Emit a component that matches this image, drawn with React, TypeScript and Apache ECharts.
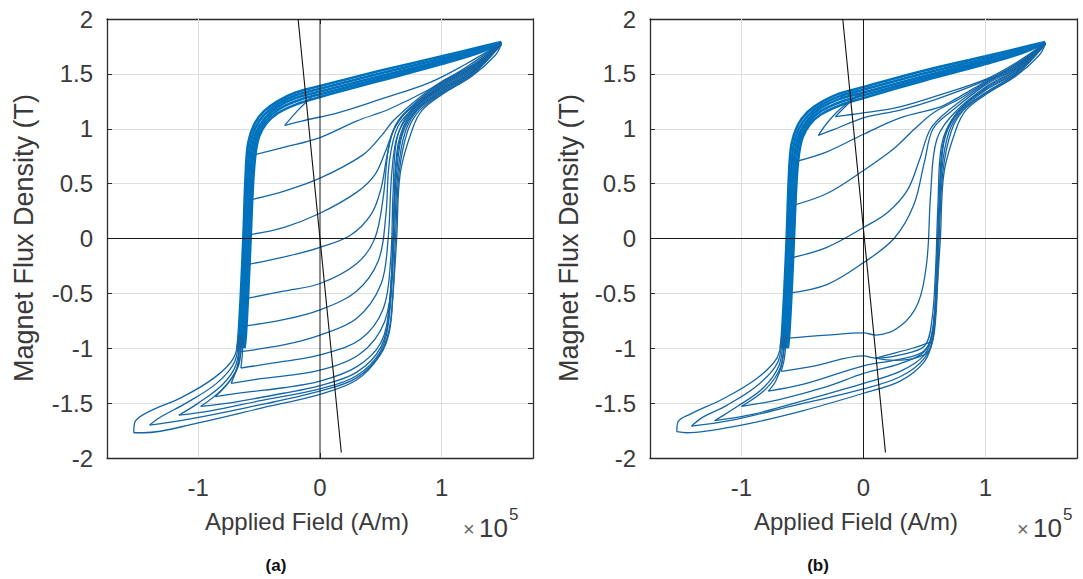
import React, { useEffect, useRef } from 'react';
import * as echarts from 'echarts';

type Pt = [number, number];

// ---------- axes ----------
const xTicks = [-1, 0, 1];
const xMin = -1.75;
const xMax = 1.75;
const yMin = -2;
const yMax = 2;
const yStep = 0.5;
const xName = 'Applied Field (A/m)';
const yName = 'Magnet Flux Density (T)';
const captions = ['(a)', '(b)'];

// ---------- reference lines ----------
const zeroV: Pt[] = [[0, -2], [0, 2]];
const zeroH: Pt[] = [[-1.75, 0], [1.75, 0]];
const aLoad: Pt[] = [[-0.18, 2], [0.175, -1.95]];
const bLoad: Pt[] = [[-0.17, 2], [0.18, -1.95]];

// ---------- panel (a) ----------
const aBand1: Pt[] = [[1.49, 1.79], [1.3, 1.74], [1.0, 1.66], [0.5, 1.53], [0, 1.39], [-0.2, 1.33], [-0.35, 1.25], [-0.46, 1.16], [-0.54, 1.04], [-0.59, 0.87], [-0.61, 0.6], [-0.63, 0], [-0.65, -0.5], [-0.67, -0.9], [-0.68, -1.0]];
const aBand2: Pt[] = [[1.49, 1.785], [1.3, 1.725], [1.0, 1.64], [0.5, 1.505], [0, 1.365], [-0.2, 1.305], [-0.35, 1.225], [-0.455, 1.13], [-0.53, 1.01], [-0.575, 0.845], [-0.595, 0.575], [-0.615, 0], [-0.635, -0.5], [-0.655, -0.9], [-0.665, -1.0]];
const aBand3: Pt[] = [[1.49, 1.78], [1.3, 1.71], [1.0, 1.62], [0.5, 1.48], [0, 1.34], [-0.2, 1.28], [-0.35, 1.2], [-0.45, 1.1], [-0.52, 0.98], [-0.56, 0.82], [-0.58, 0.55], [-0.6, 0], [-0.62, -0.5], [-0.64, -0.9], [-0.65, -1.0]];
const aBand4: Pt[] = [[1.49, 1.78], [1.3, 1.7], [1.0, 1.605], [0.5, 1.46], [0, 1.315], [-0.2, 1.25], [-0.35, 1.17], [-0.445, 1.075], [-0.51, 0.955], [-0.545, 0.795], [-0.565, 0.525], [-0.585, 0], [-0.605, -0.5], [-0.625, -0.9], [-0.635, -1.0]];
const aBand5: Pt[] = [[1.49, 1.78], [1.3, 1.69], [1.0, 1.59], [0.5, 1.44], [0, 1.29], [-0.2, 1.22], [-0.35, 1.14], [-0.44, 1.05], [-0.5, 0.93], [-0.53, 0.77], [-0.55, 0.5], [-0.57, 0], [-0.59, -0.5], [-0.61, -0.9], [-0.62, -1.0]];

const aMinorDown: Pt[] = [[-0.05, 1.31], [-0.18, 1.17], [-0.29, 1.03]];
const aMinorUp: Pt[] = [[-0.29, 1.03], [-0.15, 1.07], [0.16, 1.15], [0.5, 1.27], [0.9, 1.42], [1.2, 1.59], [1.49, 1.78]];

const aR1: Pt[] = [[-0.55, 0.76], [-0.3, 0.83], [0, 0.92], [0.3, 1.07], [0.57, 1.18], [0.9, 1.36], [1.2, 1.56], [1.49, 1.78]];
const aR2: Pt[] = [[-0.58, 0.35], [-0.3, 0.43], [0, 0.55], [0.35, 0.76], [0.5, 0.93], [0.6, 1.07], [0.79, 1.26], [1.0, 1.43], [1.25, 1.58], [1.49, 1.78]];
const aR3: Pt[] = [[-0.6, 0.03], [-0.3, 0.1], [0, 0.23], [0.3, 0.42], [0.45, 0.58], [0.54, 0.8], [0.62, 1.02], [0.75, 1.2], [1.0, 1.42], [1.25, 1.57], [1.49, 1.78]];
const aR4: Pt[] = [[-0.61, -0.24], [-0.3, -0.17], [0, -0.08], [0.25, 0.03], [0.42, 0.22], [0.5, 0.45], [0.55, 0.75], [0.6, 0.98], [0.7, 1.15], [1.0, 1.41], [1.25, 1.56], [1.49, 1.78]];
const aR5: Pt[] = [[-0.62, -0.55], [-0.3, -0.48], [0, -0.41], [0.3, -0.23], [0.45, 0.0], [0.52, 0.38], [0.56, 0.8], [0.62, 1.03], [0.72, 1.16], [1.0, 1.4], [1.25, 1.56], [1.49, 1.78]];
const aR6: Pt[] = [[-0.635, -0.8], [-0.3, -0.74], [0, -0.65], [0.3, -0.48], [0.48, -0.2], [0.54, 0.2], [0.57, 0.7], [0.64, 1.02], [0.8, 1.22], [1.0, 1.39], [1.25, 1.55], [1.49, 1.78]];
const aR7: Pt[] = [[-0.65, -1.03], [-0.3, -0.97], [0, -0.88], [0.3, -0.73], [0.5, -0.42], [0.56, 0], [0.59, 0.6], [0.64, 0.95], [0.78, 1.19], [1.0, 1.38], [1.25, 1.54], [1.49, 1.78]];

const aT1Down: Pt[] = [[-0.63, -0.88], [-0.64, -1.08], [-0.65, -1.18]];
const aT1Up: Pt[] = [[-0.65, -1.18], [-0.3, -1.12], [0, -1.06], [0.33, -0.92], [0.52, -0.64], [0.58, -0.2], [0.6, 0.4], [0.63, 0.9], [0.75, 1.17], [1.0, 1.37], [1.25, 1.53], [1.49, 1.78]];
const aT2Down: Pt[] = [[-0.64, -0.88], [-0.66, -1.12], [-0.7, -1.24], [-0.73, -1.32]];
const aT2Up: Pt[] = [[-0.73, -1.32], [-0.5, -1.28], [0, -1.2], [0.33, -1.05], [0.53, -0.76], [0.59, -0.3], [0.61, 0.3], [0.64, 0.85], [0.76, 1.16], [1.0, 1.36], [1.25, 1.52], [1.49, 1.78]];
const aT3Down: Pt[] = [[-0.65, -0.88], [-0.67, -1.15], [-0.75, -1.31], [-0.86, -1.44]];
const aT3Up: Pt[] = [[-0.86, -1.44], [-0.6, -1.4], [-0.3, -1.36], [0, -1.3], [0.3, -1.17], [0.5, -0.95], [0.57, -0.6], [0.6, 0], [0.62, 0.6], [0.67, 0.95], [0.78, 1.17], [1.0, 1.35], [1.25, 1.52], [1.49, 1.78]];
const aT4Down: Pt[] = [[-0.66, -0.88], [-0.68, -1.17], [-0.8, -1.37], [-0.98, -1.53]];
const aT4Up: Pt[] = [[-0.98, -1.53], [-0.7, -1.49], [-0.3, -1.41], [0, -1.34], [0.3, -1.22], [0.5, -0.99], [0.57, -0.65], [0.6, 0], [0.63, 0.6], [0.68, 0.96], [0.8, 1.18], [1.0, 1.34], [1.25, 1.51], [1.49, 1.77]];
const aT5Down: Pt[] = [[-0.66, -0.88], [-0.69, -1.15], [-0.8, -1.33], [-1.0, -1.5], [-1.16, -1.61]];
const aT5Up: Pt[] = [[-1.16, -1.61], [-0.9, -1.57], [-0.5, -1.48], [0, -1.37], [0.3, -1.25], [0.5, -1.02], [0.57, -0.7], [0.61, 0], [0.64, 0.6], [0.7, 0.97], [0.81, 1.18], [1.0, 1.33], [1.25, 1.5], [1.49, 1.77]];
const aT6Down: Pt[] = [[-0.67, -0.88], [-0.7, -1.12], [-0.85, -1.32], [-1.1, -1.5], [-1.3, -1.62], [-1.4, -1.7]];
const aT6Up: Pt[] = [[-1.4, -1.7], [-1.1, -1.65], [-0.6, -1.54], [0, -1.39], [0.3, -1.27], [0.5, -1.04], [0.58, -0.75], [0.62, 0], [0.65, 0.6], [0.72, 0.98], [0.82, 1.17], [1.0, 1.32], [1.25, 1.49], [1.49, 1.77]];
const aT7Down: Pt[] = [[-0.67, -0.88], [-0.71, -1.09], [-0.87, -1.27], [-1.14, -1.45], [-1.41, -1.58], [-1.52, -1.67], [-1.53, -1.77]];
const aT7Up: Pt[] = [[-1.53, -1.77], [-1.45, -1.77], [-1.0, -1.68], [-0.5, -1.55], [0, -1.42], [0.3, -1.29], [0.49, -1.07], [0.57, -0.85], [0.6, -0.5], [0.63, 0], [0.66, 0.6], [0.76, 1.0], [0.84, 1.17], [1.0, 1.31], [1.25, 1.48], [1.44, 1.67], [1.49, 1.77]];

// ---------- panel (b) ----------
const bBand1: Pt[] = [[1.49, 1.79], [1.3, 1.74], [1.0, 1.66], [0.5, 1.53], [0, 1.38], [-0.2, 1.32], [-0.35, 1.24], [-0.46, 1.15], [-0.54, 1.03], [-0.59, 0.86], [-0.61, 0.6], [-0.63, 0], [-0.65, -0.5], [-0.67, -0.9], [-0.68, -1.0]];
const bBand2: Pt[] = [[1.49, 1.785], [1.3, 1.725], [1.0, 1.64], [0.5, 1.505], [0, 1.355], [-0.2, 1.295], [-0.35, 1.215], [-0.455, 1.12], [-0.53, 1.0], [-0.575, 0.835], [-0.595, 0.575], [-0.615, 0], [-0.635, -0.5], [-0.655, -0.9], [-0.665, -1.0]];
const bBand3: Pt[] = [[1.49, 1.78], [1.3, 1.71], [1.0, 1.62], [0.5, 1.48], [0, 1.33], [-0.2, 1.27], [-0.35, 1.19], [-0.45, 1.09], [-0.52, 0.97], [-0.56, 0.81], [-0.58, 0.55], [-0.6, 0], [-0.62, -0.5], [-0.64, -0.9], [-0.65, -1.0]];
const bBand4: Pt[] = [[1.49, 1.78], [1.3, 1.7], [1.0, 1.605], [0.5, 1.46], [0, 1.305], [-0.2, 1.24], [-0.35, 1.16], [-0.445, 1.065], [-0.51, 0.945], [-0.545, 0.785], [-0.565, 0.525], [-0.585, 0], [-0.605, -0.5], [-0.625, -0.9], [-0.635, -1.0]];
const bBand5: Pt[] = [[1.49, 1.78], [1.3, 1.69], [1.0, 1.59], [0.5, 1.44], [0, 1.28], [-0.2, 1.21], [-0.35, 1.13], [-0.44, 1.04], [-0.5, 0.92], [-0.53, 0.76], [-0.55, 0.5], [-0.57, 0], [-0.59, -0.5], [-0.61, -0.9], [-0.62, -1.0]];

const bMinor1Down: Pt[] = [[0.1, 1.36], [-0.05, 1.3], [-0.15, 1.2], [-0.23, 1.11]];
const bMinor1Up: Pt[] = [[-0.23, 1.11], [-0.1, 1.13], [0.1, 1.16], [0.3, 1.2], [0.6, 1.3], [1.0, 1.45], [1.25, 1.6], [1.49, 1.78]];
const bMinor2Down: Pt[] = [[-0.05, 1.3], [-0.2, 1.17], [-0.3, 1.05], [-0.37, 0.94]];
const bMinor2Up: Pt[] = [[-0.37, 0.94], [-0.25, 0.99], [0, 1.1], [0.3, 1.17], [0.6, 1.27], [1.0, 1.44], [1.25, 1.59], [1.49, 1.78]];

const bR1: Pt[] = [[-0.56, 0.7], [-0.3, 0.79], [0, 0.95], [0.3, 1.1], [0.63, 1.2], [0.8, 1.3], [1.0, 1.43], [1.25, 1.58], [1.49, 1.78]];
const bR2: Pt[] = [[-0.585, 0.3], [-0.3, 0.41], [0, 0.62], [0.25, 0.82], [0.42, 1.0], [0.58, 1.15], [0.8, 1.28], [1.0, 1.42], [1.25, 1.57], [1.49, 1.78]];
const bR3: Pt[] = [[-0.605, -0.18], [-0.3, -0.08], [0, 0.1], [0.2, 0.24], [0.36, 0.44], [0.46, 0.72], [0.55, 1.0], [0.7, 1.17], [1.0, 1.41], [1.25, 1.56], [1.49, 1.78]];
const bR4: Pt[] = [[-0.62, -0.5], [-0.3, -0.42], [0, -0.22], [0.25, 0.0], [0.41, 0.3], [0.5, 0.7], [0.57, 1.0], [0.72, 1.16], [1.0, 1.4], [1.25, 1.55], [1.49, 1.78]];
const bR5: Pt[] = [[-0.64, -0.91], [-0.3, -0.88], [0, -0.86], [0.1, -0.88], [0.3, -0.8], [0.45, -0.58], [0.52, -0.2], [0.55, 0.4], [0.6, 0.9], [0.75, 1.15], [1.0, 1.38], [1.25, 1.54], [1.49, 1.78]];

const bLowDown: Pt[] = [[0.56, -0.94], [0.4, -1.0], [0.2, -1.06], [0.1, -1.09]];
const bLowUp: Pt[] = [[0.1, -1.09], [0.25, -1.11], [0.45, -1.08], [0.55, -1.0], [0.58, -0.7]];

const bT1Down: Pt[] = [[-0.63, -0.88], [-0.65, -1.1], [-0.675, -1.21]];
const bT1Up: Pt[] = [[-0.675, -1.21], [-0.4, -1.16], [0, -1.07], [0.1, -1.09], [0.3, -1.06], [0.5, -0.98], [0.56, -0.75], [0.59, -0.3], [0.61, 0.3], [0.64, 0.85], [0.76, 1.14], [1.0, 1.37], [1.25, 1.53], [1.49, 1.78]];
const bT2Down: Pt[] = [[-0.64, -0.88], [-0.67, -1.15], [-0.72, -1.3], [-0.78, -1.39]];
const bT2Up: Pt[] = [[-0.78, -1.39], [-0.5, -1.33], [0, -1.16], [0.3, -1.1], [0.5, -1.02], [0.57, -0.8], [0.6, -0.3], [0.62, 0.3], [0.65, 0.85], [0.77, 1.15], [1.0, 1.36], [1.25, 1.52], [1.49, 1.78]];
const bT3Down: Pt[] = [[-0.65, -0.88], [-0.68, -1.17], [-0.8, -1.37], [-1.0, -1.53]];
const bT3Up: Pt[] = [[-1.0, -1.53], [-0.7, -1.47], [-0.3, -1.35], [0, -1.23], [0.3, -1.14], [0.5, -1.03], [0.57, -0.82], [0.6, -0.2], [0.63, 0.5], [0.67, 0.93], [0.79, 1.16], [1.0, 1.35], [1.25, 1.51], [1.49, 1.78]];
const bT4Down: Pt[] = [[-0.66, -0.88], [-0.69, -1.15], [-0.82, -1.36], [-1.02, -1.52], [-1.22, -1.66]];
const bT4Up: Pt[] = [[-1.22, -1.66], [-0.9, -1.6], [-0.5, -1.48], [0, -1.32], [0.3, -1.21], [0.5, -1.06], [0.57, -0.84], [0.61, -0.1], [0.64, 0.6], [0.7, 0.97], [0.81, 1.17], [1.0, 1.33], [1.25, 1.5], [1.49, 1.77]];
const bT5Down: Pt[] = [[-0.67, -0.88], [-0.7, -1.12], [-0.86, -1.33], [-1.12, -1.52], [-1.32, -1.63], [-1.41, -1.71]];
const bT5Up: Pt[] = [[-1.41, -1.71], [-1.1, -1.66], [-0.6, -1.53], [0, -1.37], [0.3, -1.26], [0.5, -1.09], [0.58, -0.86], [0.62, 0], [0.65, 0.6], [0.72, 0.98], [0.82, 1.17], [1.0, 1.32], [1.25, 1.49], [1.49, 1.77]];
const bT6Down: Pt[] = [[-0.67, -0.88], [-0.71, -1.09], [-0.88, -1.28], [-1.15, -1.46], [-1.42, -1.6], [-1.52, -1.67], [-1.53, -1.76]];
const bT6Up: Pt[] = [[-1.53, -1.76], [-1.45, -1.77], [-1.0, -1.7], [-0.5, -1.57], [0, -1.41], [0.3, -1.3], [0.5, -1.12], [0.57, -0.9], [0.6, -0.5], [0.63, 0], [0.66, 0.6], [0.76, 1.0], [0.84, 1.17], [1.0, 1.31], [1.25, 1.48], [1.44, 1.67], [1.49, 1.77]];

const aBands = [aBand1, aBand2, aBand3, aBand4, aBand5];
const aThin = [aMinorDown, aMinorUp, aR1, aR2, aR3, aR4, aR5, aR6, aR7, aT1Down, aT1Up, aT2Down, aT2Up, aT3Down, aT3Up, aT4Down, aT4Up, aT5Down, aT5Up, aT6Down, aT6Up, aT7Down, aT7Up];
const bBands = [bBand1, bBand2, bBand3, bBand4, bBand5];
const bThin = [bMinor1Down, bMinor1Up, bMinor2Down, bMinor2Up, bR1, bR2, bR3, bR4, bR5, bLowDown, bLowUp, bT1Down, bT1Up, bT2Down, bT2Up, bT3Down, bT3Up, bT4Down, bT4Up, bT5Down, bT5Up, bT6Down, bT6Up];

const FONT = '"Liberation Sans", Arial, Helvetica, sans-serif';
const BLUE = '#0072BD';
const BLUE_THIN = '#1466a6';
const FRAME = '#2b2b2b';
const TEXT = '#3a3a3a';

export default function App() {
  const ref = useRef<HTMLDivElement>(null);

  useEffect(() => {
    if (!ref.current) return;
    const chart = echarts.init(ref.current, undefined, { renderer: 'svg' });

    const grids = [
      { left: 107, top: 19, width: 426, height: 439 },
      { left: 650, top: 19, width: 427, height: 439 },
    ];

    const xAxes: any[] = [];
    const yAxes: any[] = [];
    grids.forEach((_, gi) => {
      const common = {
        gridIndex: gi,
        type: 'value',
        min: xMin,
        max: xMax,
        axisLine: { show: true, onZero: false, lineStyle: { color: FRAME, width: 1.3 } },
        splitLine: { show: false },
      };
      xAxes.push({
        ...common,
        position: 'bottom',
        axisTick: { show: true, inside: true, length: 5, customValues: xTicks, lineStyle: { color: FRAME } },
        axisLabel: { show: true, customValues: xTicks, formatter: (v: number) => String(v), fontSize: 24, color: TEXT, margin: 17, fontFamily: FONT },
      });
      xAxes.push({
        ...common,
        position: 'top',
        axisTick: { show: true, inside: true, length: 5, customValues: xTicks, lineStyle: { color: FRAME } },
        axisLabel: { show: false },
      });
      const ycommon = {
        gridIndex: gi,
        type: 'value',
        min: yMin,
        max: yMax,
        interval: yStep,
        axisLine: { show: true, onZero: false, lineStyle: { color: FRAME, width: 1.3 } },
        axisTick: { show: true, inside: true, length: 5, lineStyle: { color: FRAME } },
      };
      yAxes.push({
        ...ycommon,
        position: 'left',
        splitLine: { show: true, lineStyle: { color: '#dedede', width: 1 } },
        axisLabel: { show: true, formatter: (v: number) => String(v), fontSize: 24, color: TEXT, margin: 14, fontFamily: FONT },
      });
      yAxes.push({
        ...ycommon,
        position: 'right',
        splitLine: { show: false },
        axisLabel: { show: false },
      });
    });

    const series: any[] = [];
    const line = (data: Pt[], gi: number, color: string, width: number, z: number, smooth: number | boolean) => ({
      type: 'line',
      xAxisIndex: gi * 2,
      yAxisIndex: gi * 2,
      data,
      symbol: 'none',
      showSymbol: false,
      smooth,
      silent: true,
      lineStyle: { color, width },
      z,
    });

    [[aBands, aThin, aLoad], [bBands, bThin, bLoad]].forEach(([bands, thin, load], gi) => {
      const vz: any = line(zeroV, gi, '#1a1a1a', 1, 5, false);
      vz.markLine = {
        silent: true,
        symbol: 'none',
        label: { show: false },
        lineStyle: { color: '#dedede', type: 'solid', width: 1 },
        data: xTicks.filter((t) => t !== 0).map((t) => ({ xAxis: t })),
        z: 1,
      };
      series.push(vz);
      series.push(line(zeroH, gi, '#1a1a1a', 1, 5, false));
      (bands as Pt[][]).forEach((c) => series.push(line(c, gi, BLUE, 2.6, 3, 0.35)));
      (thin as Pt[][]).forEach((c) => series.push(line(c, gi, BLUE_THIN, 1.3, 4, 0.35)));
      series.push(line(load as Pt[], gi, '#111111', 1.1, 6, false));
    });

    const graphic: any[] = [];
    const yNameX = [24, 569];
    const xNameX = [307, 856];
    const expX = [463, 1017];
    const capX = [276, 818];
    [0, 1].forEach((gi) => {
      graphic.push({
        type: 'text', x: yNameX[gi], y: 238, rotation: Math.PI / 2,
        style: { text: yName, fontSize: 27, fill: TEXT, fontFamily: FONT, textAlign: 'center', textVerticalAlign: 'middle' },
      });
      graphic.push({
        type: 'text', x: xNameX[gi], y: 521,
        style: { text: xName, fontSize: 24, fill: TEXT, fontFamily: FONT, textAlign: 'center', textVerticalAlign: 'middle' },
      });
      graphic.push({
        type: 'text', x: expX[gi], y: 529,
        style: { text: '×', fontSize: 20, fill: '#666', fontFamily: FONT, textAlign: 'left', textVerticalAlign: 'middle' },
      });
      graphic.push({
        type: 'text', x: expX[gi] + 16, y: 528,
        style: { text: '10', fontSize: 26, fill: TEXT, fontFamily: FONT, textAlign: 'left', textVerticalAlign: 'middle' },
      });
      graphic.push({
        type: 'text', x: expX[gi] + 46, y: 514,
        style: { text: '5', fontSize: 17, fill: TEXT, fontFamily: FONT, textAlign: 'left', textVerticalAlign: 'middle' },
      });
      graphic.push({
        type: 'text', x: capX[gi], y: 565,
        style: { text: captions[gi], fontSize: 17, fontWeight: 'bold', fill: '#111', fontFamily: FONT, textAlign: 'center', textVerticalAlign: 'middle' },
      });
    });

    chart.setOption({
      animation: false,
      backgroundColor: '#ffffff',
      grid: grids.map((g) => ({ ...g, containLabel: false })),
      xAxis: xAxes,
      yAxis: yAxes,
      series,
      graphic,
    });

    return () => chart.dispose();
  }, []);

  return (
    <div
      ref={ref}
      style={{ position: 'fixed', left: 0, top: 0, width: 1083, height: 579, background: '#fff' }}
    />
  );
}
